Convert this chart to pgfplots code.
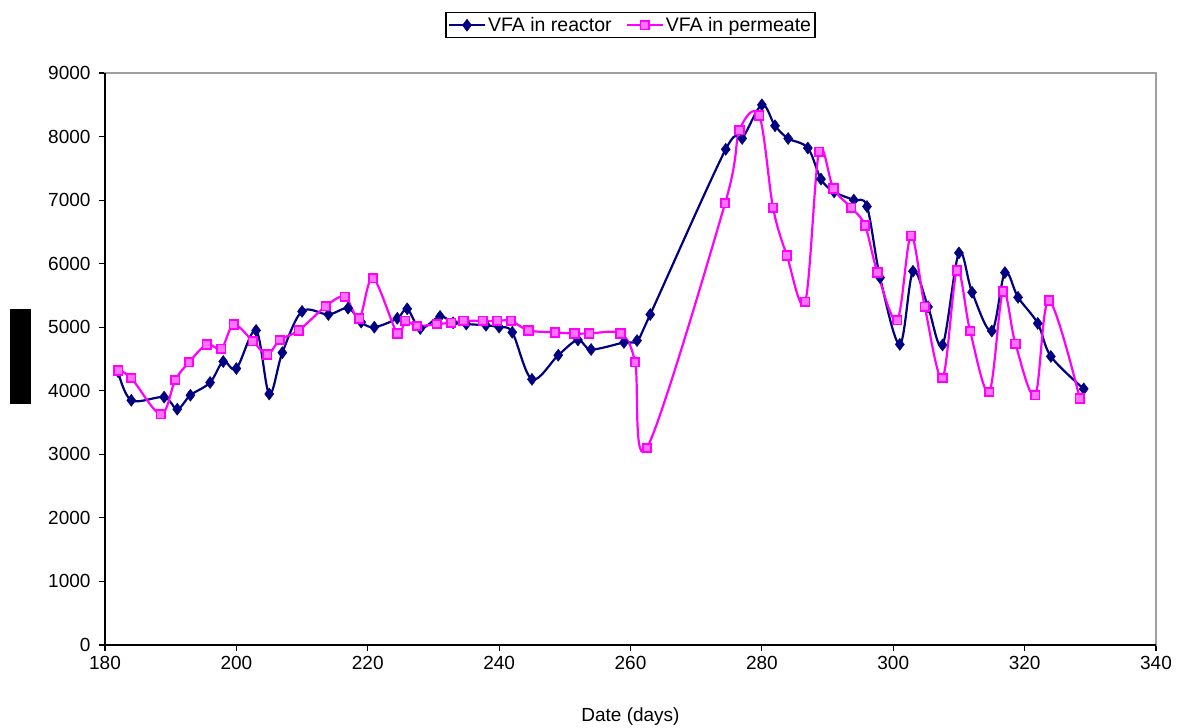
\documentclass[border=0pt]{standalone}
\usepackage{fontspec}
\setmainfont{Liberation Sans}
\usepackage{pgfplots}
\pgfplotsset{compat=1.18}
\definecolor{reactor}{RGB}{0,0,128}
\definecolor{permeate}{RGB}{255,0,255}
\newcommand\chartfont{\fontsize{19bp}{22bp}\selectfont}
\newcommand\legendfont{\fontsize{19.5bp}{22bp}\selectfont}

\begin{document}
\begin{tikzpicture}[font=\chartfont]
\begin{axis}[
  at={(0,0)}, anchor=south west,
  scale only axis, width=1051bp, height=572bp,
  xmin=180, xmax=340, ymin=0, ymax=9000,
  xtick distance=20, ytick distance=1000,
  tick pos=left, tick align=outside, major tick length=6bp,
  tick style={black, line width=1.2bp},
  axis line style={draw=gray!75, line width=1.5bp},
  every tick label/.append style={font=\chartfont},
  xticklabel style={yshift=-2bp},
  yticklabel style={xshift=-5bp},
  /pgf/number format/assume math mode=true,
  /pgf/number format/1000 sep={},
  xlabel={Date (days)},
  xlabel style={font=\chartfont, at={(axis description cs:0.5,-0.1329)}, anchor=base},
  legend style={font=\legendfont, at={(0.5,1.061)}, anchor=south, legend columns=2,
    draw=black, line width=1.2bp, inner xsep=2bp, inner ysep=2.5bp,
    /tikz/every even column/.append style={column sep=12bp},
    nodes={inner sep=2bp}},
  legend cell align=left,
  legend image code/.code={\draw[mark repeat=2,mark phase=2] plot coordinates {(0bp,0bp) (18bp,0bp) (36bp,0bp)};},
  extra description/.code={
    \draw[black, line width=1.5bp] (rel axis cs:0,1) -- (rel axis cs:0,0) -- (rel axis cs:1,0);
  },
]
% VFA measured in the reactor
\addplot[reactor, line width=2.2bp, smooth, tension=0.55, mark=diamond*, mark size=6bp,
  mark options={solid, fill=reactor, draw=reactor, line width=0.5bp}] table {
day vfa
182 4300
184 3850
189 3900
191 3710
193 3930
196 4130
198 4460
200 4350
203 4950
205 3950
207 4600
210 5250
214 5200
217 5300
219 5080
221 5000
224.5 5140
226 5290
228 4980
231 5170
233 5070
235 5050
238 5030
240 5000
242 4920
245 4180
249 4560
252 4800
254 4650
259 4760
261 4790
263 5200
274.5 7800
277 7970
280 8500
282 8170
284 7970
287 7820
289 7330
291 7130
294 7000
296 6900
298 5780
301 4730
303 5880
305.3 5320
307.5 4720
310 6170
312 5550
315 4940
317 5860
319 5470
322 5060
324 4540
329 4030
};
\addlegendentry{VFA in reactor}
% VFA measured in the permeate
\addplot[permeate, line width=2.2bp, smooth, tension=0.55, mark=square*, mark size=4.3bp,
  mark options={solid, fill=permeate!55, draw=permeate, line width=1.8bp}] table {
day vfa
182 4320
184 4200
188.5 3630
190.7 4170
192.8 4450
195.5 4730
197.7 4660
199.6 5040
202.5 4780
204.7 4570
206.6 4800
209.5 4950
213.6 5330
216.5 5480
218.7 5140
220.8 5770
224.5 4900
225.7 5100
227.5 5020
230.5 5050
232.7 5070
234.6 5100
237.5 5100
239.7 5100
241.8 5100
244.5 4950
248.5 4920
251.5 4900
253.7 4900
258.5 4900
260.7 4450
262.5 3100
274.4 6950
276.6 8100
279.6 8330
281.7 6880
283.8 6130
286.6 5400
288.7 7760
290.9 7180
293.6 6880
295.7 6600
297.6 5860
300.6 5110
302.7 6440
304.8 5320
307.5 4200
309.7 5890
311.7 4940
314.6 3980
316.7 5560
318.6 4740
321.6 3930
323.7 5420
328.4 3880
};
\addlegendentry{VFA in permeate}
\end{axis}
% y-axis title block
\fill[black] (-95bp,241bp) rectangle (-74bp,336bp);
\pgfresetboundingbox
\path[use as bounding box] (-105bp,-83bp) rectangle (1075bp,645bp);
\end{tikzpicture}
\end{document}
